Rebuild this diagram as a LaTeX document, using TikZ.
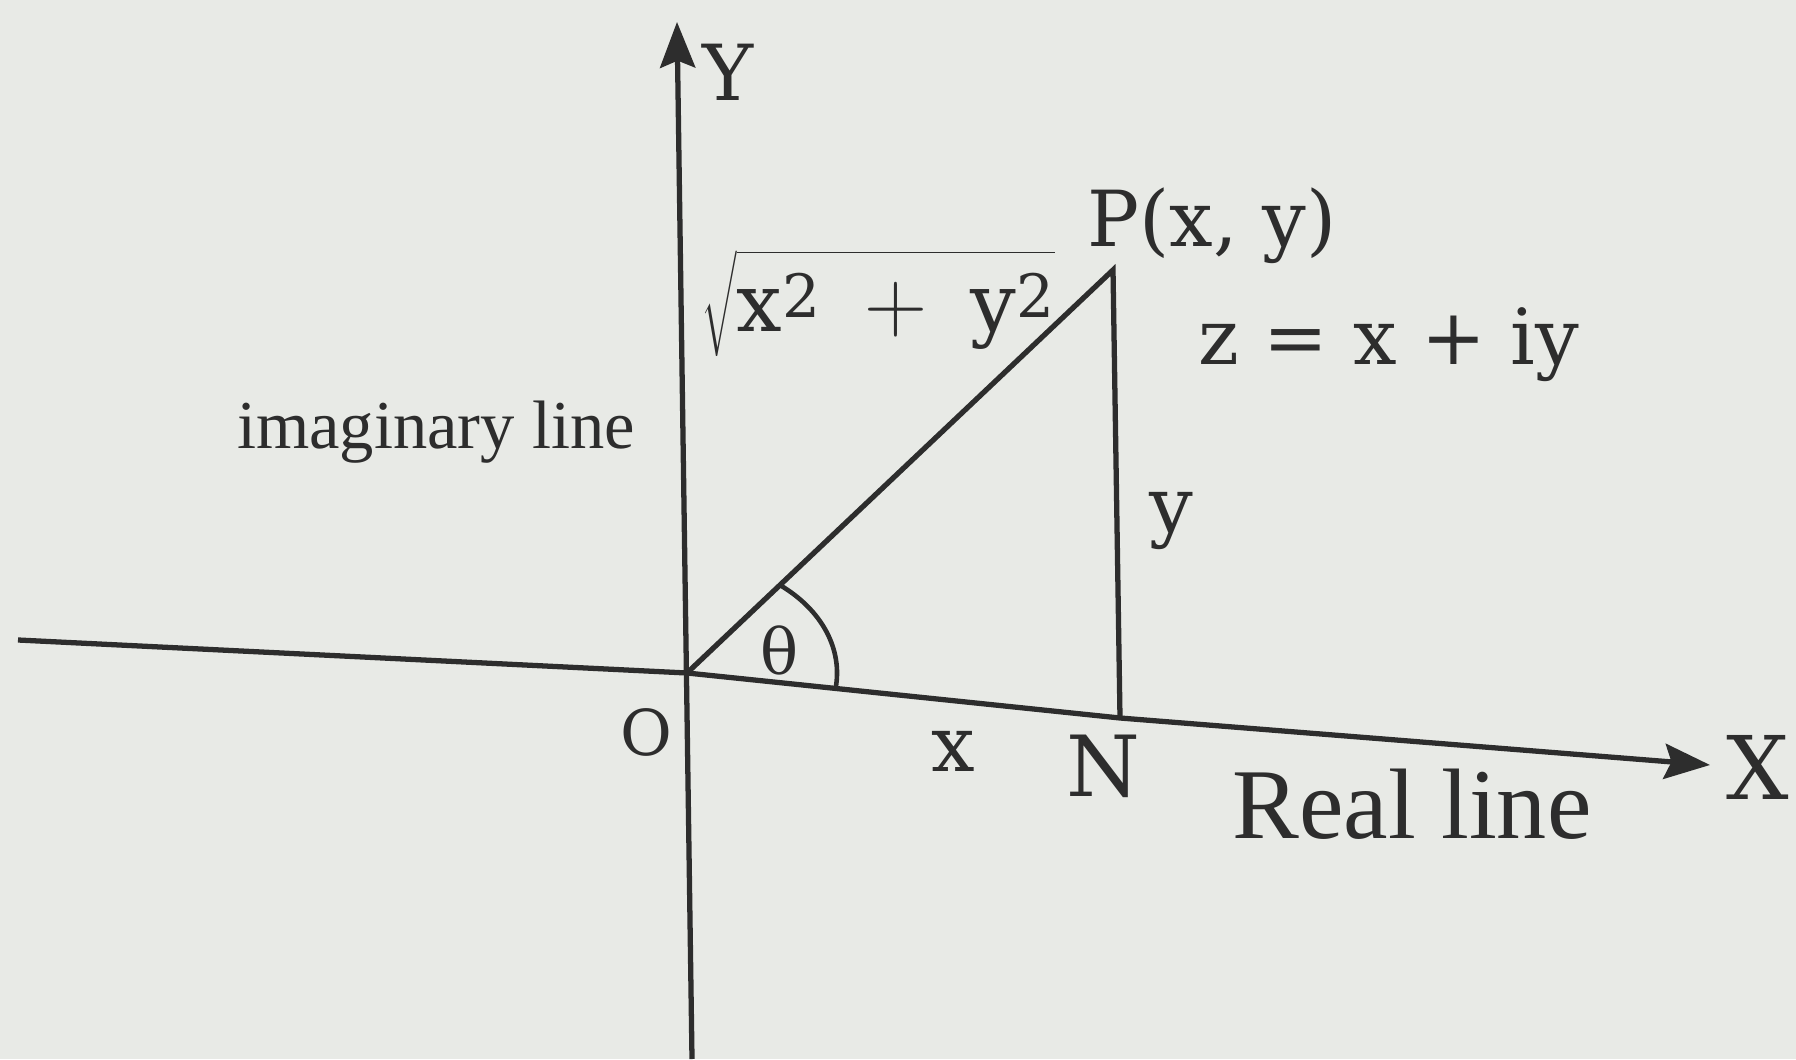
\documentclass[tikz,border=0pt]{standalone}
\usepackage{fontspec}
\setmainfont{DejaVu Serif}
\newfontfamily\bookfont{Liberation Serif}
\usetikzlibrary{arrows.meta}

\definecolor{paper}{RGB}{232,234,230}
\definecolor{ink}{RGB}{45,45,45}

% squared, set the way the book does it
\newcommand\sqd{\raisebox{0.35ex}{\fontsize{17}{20}\selectfont 2}}

\tikzset{
  axisline/.style={ink, line width=1.5pt, -{Stealth[length=13pt,width=10pt,inset=2pt]}},
  edge/.style={ink, line width=1.5pt, line join=miter},
  lbl/.style={text=ink, inner sep=0pt},
}

\begin{document}
\begin{tikzpicture}

\fill[paper] (0,0) rectangle (17.96,10.59);
\useasboundingbox (0,0) rectangle (17.96,10.59);

\coordinate (O) at (6.87,3.86);
\coordinate (P) at (11.13,7.89);
\coordinate (N) at (11.20,3.41);
\coordinate (xl) at (0.18,4.19);
\coordinate (xr) at (17.10,2.94);
\coordinate (ybot) at (6.92,0);
\coordinate (ytop) at (6.77,10.37);

% axes
\draw[axisline] (ybot) -- (ytop);
\draw[axisline] (xl) -- (O) -- (N) -- (xr);

% triangle and angle
\draw[edge] (O) -- (P) -- (N);
\draw[ink, line width=1.3pt] (O) ++(1.486,-0.154) arc[start angle=-7.9, end angle=51.7, x radius=1.5, y radius=1.12];

\node[lbl, font=\fontsize{22}{26}\selectfont] (ylab) at (7.28,9.87) {Y};
\node[lbl, font=\fontsize{25}{30}\selectfont] (xlab) at (17.58,2.92) {X};
\node[lbl, font=\fontsize{18}{22}\selectfont] (olab) at (6.46,3.27) {O};
\node[lbl, font=\fontsize{24}{28}\selectfont] (nlab) at (11.03,2.93) {N};
\node[lbl, font=\fontsize{22}{26}\selectfont] (plab) at (12.12,8.33) {P(x, y)};
\node[lbl, font=\fontsize{22}{26}\selectfont] (zlab) at (13.89,7.14) {z = x + iy};
\node[lbl, font=\fontsize{23}{27}\selectfont, anchor=base west] (rlab) at (7.01,7.27) {$\sqrt{\rule{0pt}{20pt}\mathrm{x}\sqd\mkern5mu+\mkern5mu\mathrm{y}\sqd}$};
\node[lbl, font=\fontsize{22}{26}\selectfont] (ylen) at (11.71,5.38) {y};
\node[lbl, font=\fontsize{22}{26}\selectfont] (xlen) at (9.53,3.08) {x};
\node[lbl, font=\fontsize{18}{22}\selectfont] (tlab) at (7.80,4.09) {θ};

\node[lbl, font=\bookfont\fontsize{19.5}{23}\selectfont] (imag) at (4.36,6.27) {imaginary line};
\node[lbl, font=\bookfont\fontsize{28.5}{33}\selectfont] (real) at (14.12,2.55) {Real line};

\end{tikzpicture}
\end{document}
